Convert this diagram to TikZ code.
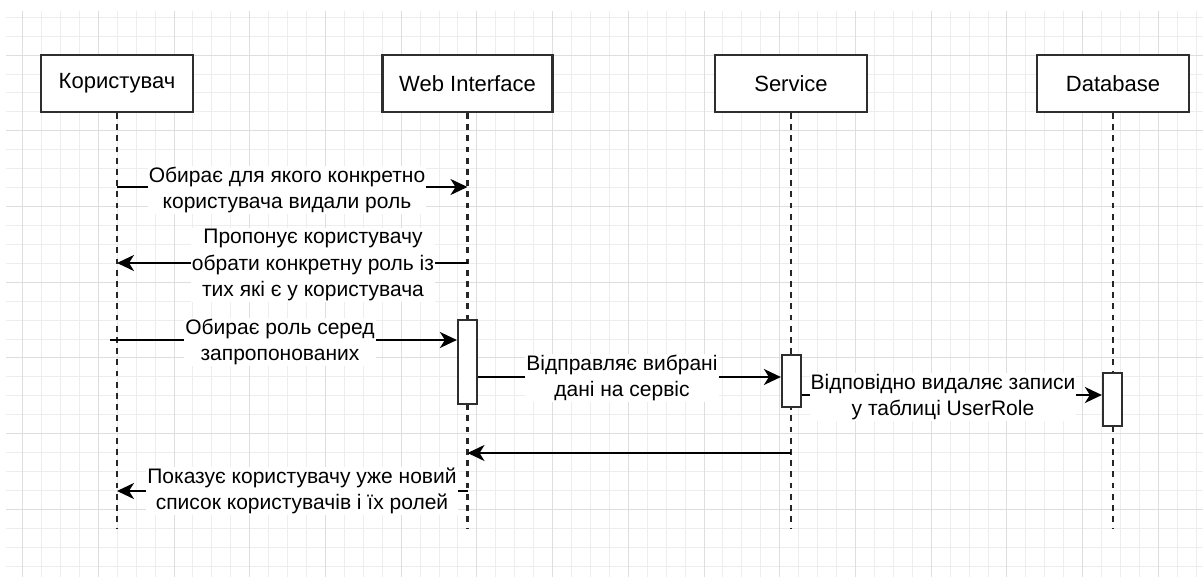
\documentclass[tikz,border=0pt]{standalone}
\usepackage{fontspec}
\setmainfont{Liberation Sans}
\usetikzlibrary{arrows.meta}
\newcommand\boxfont{\fontsize{22}{26.5}\selectfont}
\newcommand\lblfont{\fontsize{21}{26.5}\selectfont}
\begin{document}
\begin{tikzpicture}[x=1pt,y=-1pt,
  gridl/.style={draw=black!7, line width=1pt},
  gridd/.style={draw=black!13, line width=1pt},
  actor/.style={draw=black!82, line width=2.2pt, fill=white, minimum height=57pt, inner sep=0pt, font=\boxfont},
  life/.style={draw=black!85, line width=2.2pt, dash pattern=on 5.7pt off 5.5pt},
  act/.style={draw=black!82, line width=2.2pt, fill=white, minimum width=19pt, inner sep=0pt},
  msg/.style={draw=black, line width=2.1pt, -{Stealth[length=17pt,width=16pt,inset=5pt]}},
  lbl/.style={fill=white, inner sep=1pt, align=center, font=\lblfont, text=black}]
\useasboundingbox (0,0) rectangle (1203,577);
% grid
\begin{scope}
\clip (6,11) rectangle (1203,577);
\foreach \k in {-4,...,58} \draw[gridl] ({98.3+\k*18.93},11) -- ({98.3+\k*18.93},577);
\foreach \k in {-2,...,27} \draw[gridl] (6,{55.1+\k*18.93}) -- (1203,{55.1+\k*18.93});
\foreach \k in {-4,0,...,56} \draw[gridd] ({98.3+\k*18.93},11) -- ({98.3+\k*18.93},577);
\foreach \k in {0,4,...,24} \draw[gridd] (6,{55.1+\k*18.93}) -- (1203,{55.1+\k*18.93});
\end{scope}
% actors
\node[actor, minimum width=152pt] (u) at (117,83.5) {Користувач};
\node[actor, minimum width=170pt] (w) at (467.5,83.5) {Web Interface};
\node[actor, minimum width=152pt] (s) at (791,83.5) {Service};
\node[actor, minimum width=152pt] (d) at (1113,83.5) {Database};
% lifeline ends
\coordinate (ue) at (117,528);
\coordinate (we) at (467.5,528);
\coordinate (se) at (791,528);
\coordinate (de) at (1113,528);
\draw[life] (u.south) -- (ue);
\draw[life] (w.south) -- (we);
\draw[life] (s.south) -- (se);
\draw[life] (d.south) -- (de);
% activations
\node[act, minimum height=84pt] (wa) at (467.5,362) {};
\node[act, minimum height=52pt] (sa) at (791.5,381) {};
\node[act, minimum height=53pt] (da) at (1112.5,399.5) {};
% message anchor points
\coordinate (m1a) at (117,187);   \coordinate (m1b) at (467.5,187);
\coordinate (m2a) at (467.5,263); \coordinate (m2b) at (117,263);
\coordinate (m3a) at (110,340);
\coordinate (m6a) at (791,453);   \coordinate (m6b) at (467.5,453);
\coordinate (m7a) at (467.5,491); \coordinate (m7b) at (117,491);
% messages
\draw[msg] (m1a) -- (m1b);
\node[lbl] (l1) at (287,190) {Обирає для якого конкретно\\користувача видали роль};
\draw[msg] (m2a) -- (m2b);
\node[lbl] (l2) at (313,265) {Пропонує користувачу\\обрати конкретну роль із\\тих які є у користувача};
\draw[msg] (m3a) -- (m3a -| wa.west);
\node[lbl] (l3) at (280,342) {Обирає роль серед\\запропонованих};
\draw[msg] (wa.east |- 0,377) -- (sa.west |- 0,377);
\node[lbl] (l4) at (622,378) {Відправляє вибрані\\дані на сервіс};
\draw[msg] (sa.east |- 0,395) -- (da.west |- 0,395);
\node[lbl] (l5) at (943,397) {Відповідно видаляє записи\\у таблиці UserRole};
\draw[msg] (m6a) -- (m6b);
\draw[msg] (m7a) -- (m7b);
\node[lbl] (l7) at (302,491) {Показує користувачу уже новий\\список користувачів і їх ролей};
\end{tikzpicture}
\end{document}
